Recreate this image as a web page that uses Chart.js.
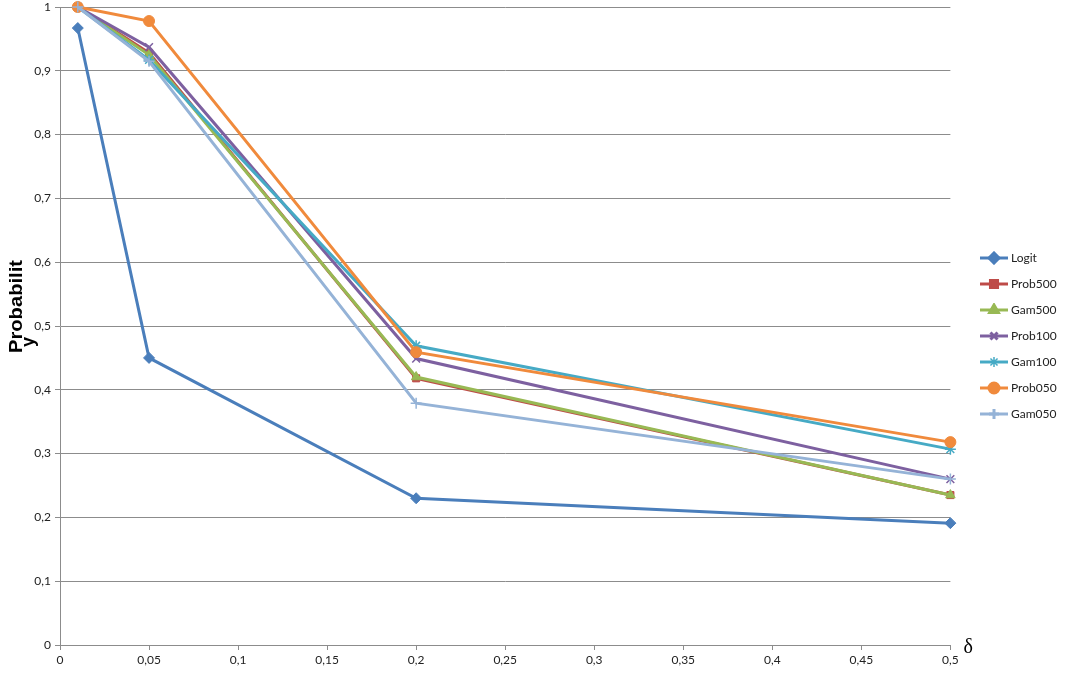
<!DOCTYPE html>
<html>
<head>
<meta charset="utf-8">
<script src="https://cdn.jsdelivr.net/npm/chart.js@4/dist/chart.umd.min.js"></script>
<style>
  html, body { margin: 0; padding: 0; background: #fff; }
  #wrap { width: 1065px; height: 673px; }
</style>
</head>
<body>
<div id="wrap"><canvas id="c" width="1065" height="673"></canvas></div>
<script>
// data
const deltas = [0.01, 0.05, 0.2, 0.5];
const logit   = [0.967, 0.45, 0.23, 0.191];
const prob500 = [1, 0.928, 0.418, 0.235];
const gam500  = [1, 0.925, 0.42, 0.235];
const prob100 = [1, 0.937, 0.449, 0.26];
const gam100  = [1, 0.917, 0.469, 0.307];
const prob050 = [1, 0.978, 0.459, 0.318];
const gam050  = [1, 0.915, 0.379, 0.26];

const seriesNames = ['Logit', 'Prob500', 'Gam500', 'Prob100', 'Gam100', 'Prob050', 'Gam050'];
const seriesValues = [logit, prob500, gam500, prob100, gam100, prob050, gam050];
const colors = ['#4a7ebb', '#be4b48', '#98b954', '#7d60a0', '#46aac5', '#f08a3c', '#95b3d7'];
const markers = ['rectRot', 'rect', 'triangle', 'crossRot', 'star', 'circle', 'cross'];

const fmt = v => String(Math.round(v * 100) / 100).replace('.', ',');

function legendIcon(color, style) {
  const cv = document.createElement('canvas');
  cv.width = 28; cv.height = 14;
  const g = cv.getContext('2d');
  g.strokeStyle = color; g.fillStyle = color; g.lineWidth = 3;
  g.beginPath(); g.moveTo(0, 7); g.lineTo(28, 7); g.stroke();
  if (style === 'star') {
    g.lineWidth = 1.5;
    g.beginPath();
    for (let k = 0; k < 4; k++) {
      const a = k * Math.PI / 4;
      g.moveTo(14 + Math.cos(a) * 5, 7 + Math.sin(a) * 5);
      g.lineTo(14 - Math.cos(a) * 5, 7 - Math.sin(a) * 5);
    }
    g.stroke();
  } else {
    Chart.helpers.drawPoint(g, { pointStyle: style, radius: 5, borderWidth: 1.5 }, 14, 7);
  }
  return cv;
}
const icons = colors.map((c, i) => legendIcon(c, markers[i]));

const datasets = seriesNames.map((name, i) => ({
  label: name,
  data: deltas.map((d, j) => ({ x: d, y: seriesValues[i][j] })),
  order: -i,
  clip: false,
  borderColor: colors[i],
  backgroundColor: colors[i],
  borderWidth: 3,
  pointStyle: markers[i],
  pointRadius: markers[i] === 'rect' ? 5 : 5.5,
  pointBorderWidth: markers[i].indexOf('cross') === 0 || markers[i] === 'star' ? 1.5 : 1,
  pointBorderColor: colors[i],
  pointBackgroundColor: colors[i],
  tension: 0
}));

const extras = {
  id: 'extras',
  afterLayout(chart) {
    const lg = chart.legend;
    const dx = 969 - lg.left, dy = -4;
    lg.left += dx; lg.right += dx;
    lg.top += dy; lg.bottom += dy;
  },
  afterDraw(chart) {
    const { ctx, chartArea } = chart;
    ctx.save();
    ctx.fillStyle = '#000';
    ctx.font = '20px "Liberation Serif", "DejaVu Serif", serif';
    ctx.textBaseline = 'middle';
    ctx.fillText('δ', chartArea.right + 13, chartArea.bottom + 3);
    // y axis title, two lines, rotated
    ctx.font = 'bold 18px "Liberation Sans", Arial, sans-serif';
    ctx.textBaseline = 'alphabetic';
    ctx.textAlign = 'left';
    const w = ctx.measureText('Probabilit').width;
    ctx.translate(22, 353);
    ctx.rotate(-Math.PI / 2);
    ctx.save();
    ctx.scale(93 / w, 1);
    ctx.fillText('Probabilit', 0, 0);
    ctx.restore();
    ctx.fillText('y', 6, 12);
    ctx.restore();
  }
};

new Chart(document.getElementById('c'), {
  type: 'line',
  data: { datasets },
  plugins: [extras],
  options: {
    responsive: false,
    animation: false,
    layout: { padding: { top: 7, right: 17, left: 0, bottom: 0 } },
    plugins: {
      legend: {
        position: 'right',
        labels: {
          usePointStyle: true,
          pointStyleWidth: 22,
          padding: 14,
          color: '#222',
          font: { family: 'Lato, "Open Sans", sans-serif', size: 12 },
          generateLabels(chart) {
            const items = Chart.defaults.plugins.legend.labels.generateLabels(chart);
            items.sort((a, b) => a.datasetIndex - b.datasetIndex);
            items.forEach(it => { it.pointStyle = icons[it.datasetIndex]; });
            return items;
          }
        }
      },
      tooltip: { enabled: false }
    },
    scales: {
      x: {
        type: 'linear',
        min: 0, max: 0.5,
        afterFit(s) { s.height = 28; },
        ticks: { stepSize: 0.05, callback: fmt, color: '#222', padding: 3, maxRotation: 0,
                  font: { family: 'Lato, "Open Sans", sans-serif', size: 12 } },
        grid: { drawOnChartArea: false, drawTicks: true, tickLength: 5, color: '#8c8c8c' },
        border: { color: '#8c8c8c', width: 1 }
      },
      y: {
        min: 0, max: 1,
        afterFit(s) { s.width = 60; s.paddingTop = 0; s.paddingBottom = 0; },
        ticks: { stepSize: 0.1, callback: fmt, color: '#222', padding: 4,
                 font: { family: 'Lato, "Open Sans", sans-serif', size: 12 } },
        grid: { color: '#8c8c8c', tickLength: 5 },
        border: { color: '#8c8c8c', width: 1 }
      }
    }
  }
});
</script>
</body>
</html>
